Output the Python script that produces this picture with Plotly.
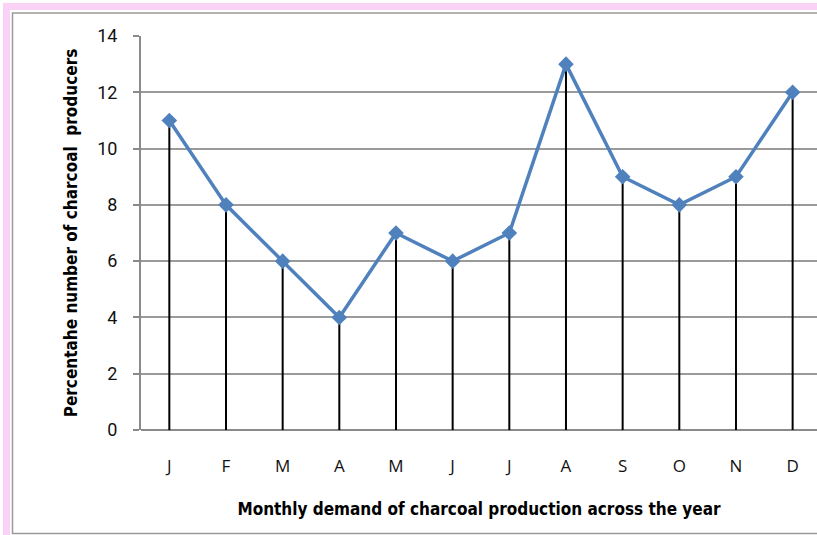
import plotly.graph_objects as go

months = ["J", "F", "M", "A", "M", "J", "J", "A", "S", "O", "N", "D"]
values = [11, 8, 6, 4, 7, 6, 7, 13, 9, 8, 9, 12]
y_ticks = [0, 2, 4, 6, 8, 10, 12, 14]

W, H = 817, 535
L, R, T, B = 141, 0, 36, 105
pw, ph = W - L - R, H - T - B

def px(x):
    return (x - L) / pw

def py(y):
    return (H - B - y) / ph

xs = list(range(len(months)))
fig = go.Figure()

for i, v in zip(xs, values):
    fig.add_trace(go.Scatter(x=[i, i], y=[0, v], mode="lines",
                             line=dict(color="black", width=2),
                             showlegend=False, hoverinfo="skip"))

fig.add_trace(go.Scatter(x=xs, y=values, mode="lines+markers",
                         line=dict(color="#4F81BD", width=3.5),
                         marker=dict(symbol="diamond", size=12, color="#4F81BD"),
                         showlegend=False))

shapes = [
    dict(type="rect", xref="paper", yref="paper", x0=px(3), x1=px(10), y0=py(535), y1=py(3),
         fillcolor="#FAD2F6", line=dict(width=0), layer="below"),
    dict(type="rect", xref="paper", yref="paper", x0=px(3), x1=px(820), y0=py(10), y1=py(3),
         fillcolor="#FAD2F6", line=dict(width=0), layer="below"),
    dict(type="rect", xref="paper", yref="paper", x0=px(12.5), x1=px(830), y0=py(533.5), y1=py(13),
         fillcolor="rgba(0,0,0,0)", line=dict(color="#9a9a9a", width=1.5), layer="below"),
]

title_font = "Liberation Sans Narrow, DejaVu Sans Condensed, Roboto, sans-serif"

fig.update_layout(
    width=W, height=H,
    margin=dict(l=L, r=R, t=T, b=B),
    paper_bgcolor="white", plot_bgcolor="white",
    shapes=shapes,
    font=dict(family="Roboto, sans-serif", color="black"),
    xaxis=dict(
        tickmode="array", tickvals=xs, ticktext=months,
        range=[-0.5, 11.43], showgrid=False, zeroline=False,
        showline=False, ticks="", ticklabelstandoff=24,
        tickfont=dict(size=17, family="Open Sans", color="#111"),
        title=dict(text="<b>Monthly demand of charcoal production across the year</b>",
                   font=dict(size=17, family=title_font), standoff=27),
    ),
    yaxis=dict(
        range=[0, 14], tickvals=y_ticks, showgrid=True, gridcolor="#9a9a9a", gridwidth=1.5,
        showline=True, linecolor="#8a8a8a", linewidth=2, zeroline=True, zerolinecolor="#8a8a8a",
        zerolinewidth=2, ticks="outside", ticklen=6, tickcolor="#8a8a8a", tickwidth=1.5,
        ticklabelstandoff=12,
        tickfont=dict(size=18, family="Roboto", color="#111"),
        title=dict(text="<b>Percentahe number of charcoal  producers</b>",
                   font=dict(size=17, family=title_font), standoff=15),
    ),
)

fig.write_html("out.html", config={"displayModeBar": False},
               post_script="document.body.style.margin='0';document.body.style.overflow='hidden';")
